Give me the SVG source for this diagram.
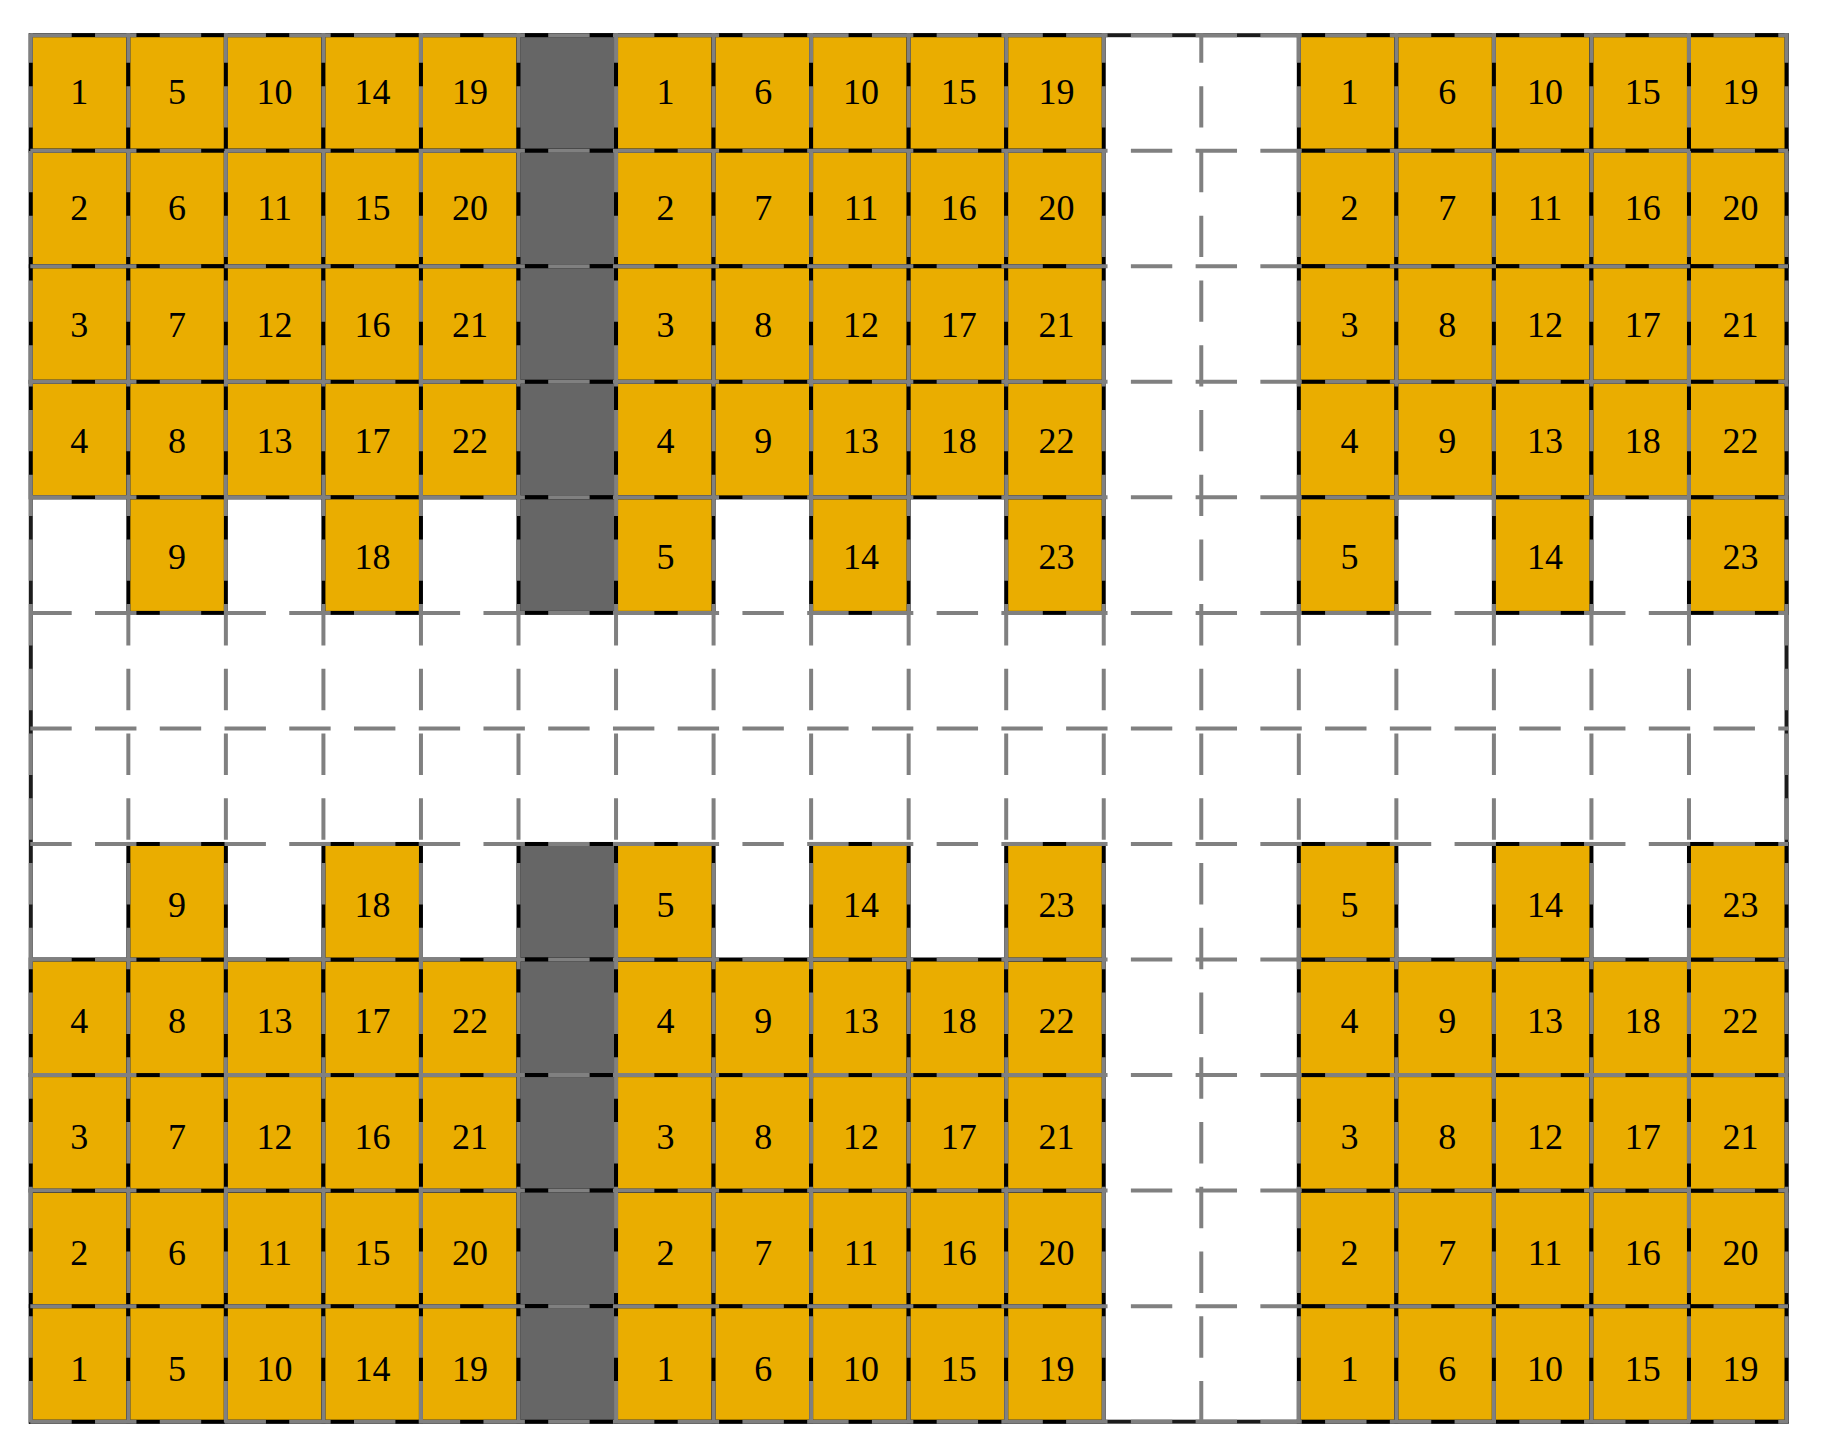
<svg xmlns="http://www.w3.org/2000/svg" width="1822" height="1455" viewBox="0 0 1822 1455">
<style>
.o{fill:#EAAD00;stroke:#000;stroke-width:4}
.d{fill:#666666;stroke:#000;stroke-width:4}
.frame{fill:none;stroke:#1c1c1c;stroke-width:4}
#grid line{stroke:#808080;stroke-width:4;stroke-dasharray:41.4 23.34}
text{font-family:"Liberation Serif","Times New Roman",serif;font-size:36px;text-anchor:middle;fill:#000}
</style>
<rect x="0" y="0" width="1822" height="1455" fill="#fff"/>
<rect class="frame" x="30.8" y="35.2" width="1755.72" height="1386.48"/>
<g id="cells">
<!-- Block A top -->
<g id="A-r0c0"><rect class="o" x="30.8" y="35.2" width="97.54" height="115.54"/><text x="79.2" y="104.4">1</text></g>
<g id="A-r1c0"><rect class="o" x="30.8" y="150.74" width="97.54" height="115.54"/><text x="79.2" y="220.46">2</text></g>
<g id="A-r2c0"><rect class="o" x="30.8" y="266.28" width="97.54" height="115.54"/><text x="79.2" y="336.52">3</text></g>
<g id="A-r3c0"><rect class="o" x="30.8" y="381.82" width="97.54" height="115.54"/><text x="79.2" y="452.58">4</text></g>
<g id="A-r0c1"><rect class="o" x="128.34" y="35.2" width="97.54" height="115.54"/><text x="176.9" y="104.4">5</text></g>
<g id="A-r1c1"><rect class="o" x="128.34" y="150.74" width="97.54" height="115.54"/><text x="176.9" y="220.46">6</text></g>
<g id="A-r2c1"><rect class="o" x="128.34" y="266.28" width="97.54" height="115.54"/><text x="176.9" y="336.52">7</text></g>
<g id="A-r3c1"><rect class="o" x="128.34" y="381.82" width="97.54" height="115.54"/><text x="176.9" y="452.58">8</text></g>
<g id="A-r4c1"><rect class="o" x="128.34" y="497.36" width="97.54" height="115.54"/><text x="176.9" y="568.64">9</text></g>
<g id="A-r0c2"><rect class="o" x="225.88" y="35.2" width="97.54" height="115.54"/><text x="274.6" y="104.4">10</text></g>
<g id="A-r1c2"><rect class="o" x="225.88" y="150.74" width="97.54" height="115.54"/><text x="274.6" y="220.46">11</text></g>
<g id="A-r2c2"><rect class="o" x="225.88" y="266.28" width="97.54" height="115.54"/><text x="274.6" y="336.52">12</text></g>
<g id="A-r3c2"><rect class="o" x="225.88" y="381.82" width="97.54" height="115.54"/><text x="274.6" y="452.58">13</text></g>
<g id="A-r0c3"><rect class="o" x="323.42" y="35.2" width="97.54" height="115.54"/><text x="372.4" y="104.4">14</text></g>
<g id="A-r1c3"><rect class="o" x="323.42" y="150.74" width="97.54" height="115.54"/><text x="372.4" y="220.46">15</text></g>
<g id="A-r2c3"><rect class="o" x="323.42" y="266.28" width="97.54" height="115.54"/><text x="372.4" y="336.52">16</text></g>
<g id="A-r3c3"><rect class="o" x="323.42" y="381.82" width="97.54" height="115.54"/><text x="372.4" y="452.58">17</text></g>
<g id="A-r4c3"><rect class="o" x="323.42" y="497.36" width="97.54" height="115.54"/><text x="372.4" y="568.64">18</text></g>
<g id="A-r0c4"><rect class="o" x="420.96" y="35.2" width="97.54" height="115.54"/><text x="470.1" y="104.4">19</text></g>
<g id="A-r1c4"><rect class="o" x="420.96" y="150.74" width="97.54" height="115.54"/><text x="470.1" y="220.46">20</text></g>
<g id="A-r2c4"><rect class="o" x="420.96" y="266.28" width="97.54" height="115.54"/><text x="470.1" y="336.52">21</text></g>
<g id="A-r3c4"><rect class="o" x="420.96" y="381.82" width="97.54" height="115.54"/><text x="470.1" y="452.58">22</text></g>
<!-- Block A bottom -->
<g id="A-r11c0"><rect class="o" x="30.8" y="1306.14" width="97.54" height="115.54"/><text x="79.2" y="1381.06">1</text></g>
<g id="A-r10c0"><rect class="o" x="30.8" y="1190.6" width="97.54" height="115.54"/><text x="79.2" y="1265">2</text></g>
<g id="A-r9c0"><rect class="o" x="30.8" y="1075.06" width="97.54" height="115.54"/><text x="79.2" y="1148.94">3</text></g>
<g id="A-r8c0"><rect class="o" x="30.8" y="959.52" width="97.54" height="115.54"/><text x="79.2" y="1032.88">4</text></g>
<g id="A-r11c1"><rect class="o" x="128.34" y="1306.14" width="97.54" height="115.54"/><text x="176.9" y="1381.06">5</text></g>
<g id="A-r10c1"><rect class="o" x="128.34" y="1190.6" width="97.54" height="115.54"/><text x="176.9" y="1265">6</text></g>
<g id="A-r9c1"><rect class="o" x="128.34" y="1075.06" width="97.54" height="115.54"/><text x="176.9" y="1148.94">7</text></g>
<g id="A-r8c1"><rect class="o" x="128.34" y="959.52" width="97.54" height="115.54"/><text x="176.9" y="1032.88">8</text></g>
<g id="A-r7c1"><rect class="o" x="128.34" y="843.98" width="97.54" height="115.54"/><text x="176.9" y="916.82">9</text></g>
<g id="A-r11c2"><rect class="o" x="225.88" y="1306.14" width="97.54" height="115.54"/><text x="274.6" y="1381.06">10</text></g>
<g id="A-r10c2"><rect class="o" x="225.88" y="1190.6" width="97.54" height="115.54"/><text x="274.6" y="1265">11</text></g>
<g id="A-r9c2"><rect class="o" x="225.88" y="1075.06" width="97.54" height="115.54"/><text x="274.6" y="1148.94">12</text></g>
<g id="A-r8c2"><rect class="o" x="225.88" y="959.52" width="97.54" height="115.54"/><text x="274.6" y="1032.88">13</text></g>
<g id="A-r11c3"><rect class="o" x="323.42" y="1306.14" width="97.54" height="115.54"/><text x="372.4" y="1381.06">14</text></g>
<g id="A-r10c3"><rect class="o" x="323.42" y="1190.6" width="97.54" height="115.54"/><text x="372.4" y="1265">15</text></g>
<g id="A-r9c3"><rect class="o" x="323.42" y="1075.06" width="97.54" height="115.54"/><text x="372.4" y="1148.94">16</text></g>
<g id="A-r8c3"><rect class="o" x="323.42" y="959.52" width="97.54" height="115.54"/><text x="372.4" y="1032.88">17</text></g>
<g id="A-r7c3"><rect class="o" x="323.42" y="843.98" width="97.54" height="115.54"/><text x="372.4" y="916.82">18</text></g>
<g id="A-r11c4"><rect class="o" x="420.96" y="1306.14" width="97.54" height="115.54"/><text x="470.1" y="1381.06">19</text></g>
<g id="A-r10c4"><rect class="o" x="420.96" y="1190.6" width="97.54" height="115.54"/><text x="470.1" y="1265">20</text></g>
<g id="A-r9c4"><rect class="o" x="420.96" y="1075.06" width="97.54" height="115.54"/><text x="470.1" y="1148.94">21</text></g>
<g id="A-r8c4"><rect class="o" x="420.96" y="959.52" width="97.54" height="115.54"/><text x="470.1" y="1032.88">22</text></g>
<!-- Dark column -->
<g id="D-r0"><rect class="d" x="518.5" y="35.2" width="97.54" height="115.54"/></g>
<g id="D-r1"><rect class="d" x="518.5" y="150.74" width="97.54" height="115.54"/></g>
<g id="D-r2"><rect class="d" x="518.5" y="266.28" width="97.54" height="115.54"/></g>
<g id="D-r3"><rect class="d" x="518.5" y="381.82" width="97.54" height="115.54"/></g>
<g id="D-r4"><rect class="d" x="518.5" y="497.36" width="97.54" height="115.54"/></g>
<g id="D-r7"><rect class="d" x="518.5" y="843.98" width="97.54" height="115.54"/></g>
<g id="D-r8"><rect class="d" x="518.5" y="959.52" width="97.54" height="115.54"/></g>
<g id="D-r9"><rect class="d" x="518.5" y="1075.06" width="97.54" height="115.54"/></g>
<g id="D-r10"><rect class="d" x="518.5" y="1190.6" width="97.54" height="115.54"/></g>
<g id="D-r11"><rect class="d" x="518.5" y="1306.14" width="97.54" height="115.54"/></g>
<!-- Block B top -->
<g id="B-r0c6"><rect class="o" x="616.04" y="35.2" width="97.54" height="115.54"/><text x="665.5" y="104.4">1</text></g>
<g id="B-r1c6"><rect class="o" x="616.04" y="150.74" width="97.54" height="115.54"/><text x="665.5" y="220.46">2</text></g>
<g id="B-r2c6"><rect class="o" x="616.04" y="266.28" width="97.54" height="115.54"/><text x="665.5" y="336.52">3</text></g>
<g id="B-r3c6"><rect class="o" x="616.04" y="381.82" width="97.54" height="115.54"/><text x="665.5" y="452.58">4</text></g>
<g id="B-r4c6"><rect class="o" x="616.04" y="497.36" width="97.54" height="115.54"/><text x="665.5" y="568.64">5</text></g>
<g id="B-r0c7"><rect class="o" x="713.58" y="35.2" width="97.54" height="115.54"/><text x="763.2" y="104.4">6</text></g>
<g id="B-r1c7"><rect class="o" x="713.58" y="150.74" width="97.54" height="115.54"/><text x="763.2" y="220.46">7</text></g>
<g id="B-r2c7"><rect class="o" x="713.58" y="266.28" width="97.54" height="115.54"/><text x="763.2" y="336.52">8</text></g>
<g id="B-r3c7"><rect class="o" x="713.58" y="381.82" width="97.54" height="115.54"/><text x="763.2" y="452.58">9</text></g>
<g id="B-r0c8"><rect class="o" x="811.12" y="35.2" width="97.54" height="115.54"/><text x="861" y="104.4">10</text></g>
<g id="B-r1c8"><rect class="o" x="811.12" y="150.74" width="97.54" height="115.54"/><text x="861" y="220.46">11</text></g>
<g id="B-r2c8"><rect class="o" x="811.12" y="266.28" width="97.54" height="115.54"/><text x="861" y="336.52">12</text></g>
<g id="B-r3c8"><rect class="o" x="811.12" y="381.82" width="97.54" height="115.54"/><text x="861" y="452.58">13</text></g>
<g id="B-r4c8"><rect class="o" x="811.12" y="497.36" width="97.54" height="115.54"/><text x="861" y="568.64">14</text></g>
<g id="B-r0c9"><rect class="o" x="908.66" y="35.2" width="97.54" height="115.54"/><text x="958.7" y="104.4">15</text></g>
<g id="B-r1c9"><rect class="o" x="908.66" y="150.74" width="97.54" height="115.54"/><text x="958.7" y="220.46">16</text></g>
<g id="B-r2c9"><rect class="o" x="908.66" y="266.28" width="97.54" height="115.54"/><text x="958.7" y="336.52">17</text></g>
<g id="B-r3c9"><rect class="o" x="908.66" y="381.82" width="97.54" height="115.54"/><text x="958.7" y="452.58">18</text></g>
<g id="B-r0c10"><rect class="o" x="1006.2" y="35.2" width="97.54" height="115.54"/><text x="1056.4" y="104.4">19</text></g>
<g id="B-r1c10"><rect class="o" x="1006.2" y="150.74" width="97.54" height="115.54"/><text x="1056.4" y="220.46">20</text></g>
<g id="B-r2c10"><rect class="o" x="1006.2" y="266.28" width="97.54" height="115.54"/><text x="1056.4" y="336.52">21</text></g>
<g id="B-r3c10"><rect class="o" x="1006.2" y="381.82" width="97.54" height="115.54"/><text x="1056.4" y="452.58">22</text></g>
<g id="B-r4c10"><rect class="o" x="1006.2" y="497.36" width="97.54" height="115.54"/><text x="1056.4" y="568.64">23</text></g>
<!-- Block B bottom -->
<g id="B-r11c6"><rect class="o" x="616.04" y="1306.14" width="97.54" height="115.54"/><text x="665.5" y="1381.06">1</text></g>
<g id="B-r10c6"><rect class="o" x="616.04" y="1190.6" width="97.54" height="115.54"/><text x="665.5" y="1265">2</text></g>
<g id="B-r9c6"><rect class="o" x="616.04" y="1075.06" width="97.54" height="115.54"/><text x="665.5" y="1148.94">3</text></g>
<g id="B-r8c6"><rect class="o" x="616.04" y="959.52" width="97.54" height="115.54"/><text x="665.5" y="1032.88">4</text></g>
<g id="B-r7c6"><rect class="o" x="616.04" y="843.98" width="97.54" height="115.54"/><text x="665.5" y="916.82">5</text></g>
<g id="B-r11c7"><rect class="o" x="713.58" y="1306.14" width="97.54" height="115.54"/><text x="763.2" y="1381.06">6</text></g>
<g id="B-r10c7"><rect class="o" x="713.58" y="1190.6" width="97.54" height="115.54"/><text x="763.2" y="1265">7</text></g>
<g id="B-r9c7"><rect class="o" x="713.58" y="1075.06" width="97.54" height="115.54"/><text x="763.2" y="1148.94">8</text></g>
<g id="B-r8c7"><rect class="o" x="713.58" y="959.52" width="97.54" height="115.54"/><text x="763.2" y="1032.88">9</text></g>
<g id="B-r11c8"><rect class="o" x="811.12" y="1306.14" width="97.54" height="115.54"/><text x="861" y="1381.06">10</text></g>
<g id="B-r10c8"><rect class="o" x="811.12" y="1190.6" width="97.54" height="115.54"/><text x="861" y="1265">11</text></g>
<g id="B-r9c8"><rect class="o" x="811.12" y="1075.06" width="97.54" height="115.54"/><text x="861" y="1148.94">12</text></g>
<g id="B-r8c8"><rect class="o" x="811.12" y="959.52" width="97.54" height="115.54"/><text x="861" y="1032.88">13</text></g>
<g id="B-r7c8"><rect class="o" x="811.12" y="843.98" width="97.54" height="115.54"/><text x="861" y="916.82">14</text></g>
<g id="B-r11c9"><rect class="o" x="908.66" y="1306.14" width="97.54" height="115.54"/><text x="958.7" y="1381.06">15</text></g>
<g id="B-r10c9"><rect class="o" x="908.66" y="1190.6" width="97.54" height="115.54"/><text x="958.7" y="1265">16</text></g>
<g id="B-r9c9"><rect class="o" x="908.66" y="1075.06" width="97.54" height="115.54"/><text x="958.7" y="1148.94">17</text></g>
<g id="B-r8c9"><rect class="o" x="908.66" y="959.52" width="97.54" height="115.54"/><text x="958.7" y="1032.88">18</text></g>
<g id="B-r11c10"><rect class="o" x="1006.2" y="1306.14" width="97.54" height="115.54"/><text x="1056.4" y="1381.06">19</text></g>
<g id="B-r10c10"><rect class="o" x="1006.2" y="1190.6" width="97.54" height="115.54"/><text x="1056.4" y="1265">20</text></g>
<g id="B-r9c10"><rect class="o" x="1006.2" y="1075.06" width="97.54" height="115.54"/><text x="1056.4" y="1148.94">21</text></g>
<g id="B-r8c10"><rect class="o" x="1006.2" y="959.52" width="97.54" height="115.54"/><text x="1056.4" y="1032.88">22</text></g>
<g id="B-r7c10"><rect class="o" x="1006.2" y="843.98" width="97.54" height="115.54"/><text x="1056.4" y="916.82">23</text></g>
<!-- Block C top -->
<g id="C-r0c13"><rect class="o" x="1298.82" y="35.2" width="97.54" height="115.54"/><text x="1349.6" y="104.4">1</text></g>
<g id="C-r1c13"><rect class="o" x="1298.82" y="150.74" width="97.54" height="115.54"/><text x="1349.6" y="220.46">2</text></g>
<g id="C-r2c13"><rect class="o" x="1298.82" y="266.28" width="97.54" height="115.54"/><text x="1349.6" y="336.52">3</text></g>
<g id="C-r3c13"><rect class="o" x="1298.82" y="381.82" width="97.54" height="115.54"/><text x="1349.6" y="452.58">4</text></g>
<g id="C-r4c13"><rect class="o" x="1298.82" y="497.36" width="97.54" height="115.54"/><text x="1349.6" y="568.64">5</text></g>
<g id="C-r0c14"><rect class="o" x="1396.36" y="35.2" width="97.54" height="115.54"/><text x="1447.3" y="104.4">6</text></g>
<g id="C-r1c14"><rect class="o" x="1396.36" y="150.74" width="97.54" height="115.54"/><text x="1447.3" y="220.46">7</text></g>
<g id="C-r2c14"><rect class="o" x="1396.36" y="266.28" width="97.54" height="115.54"/><text x="1447.3" y="336.52">8</text></g>
<g id="C-r3c14"><rect class="o" x="1396.36" y="381.82" width="97.54" height="115.54"/><text x="1447.3" y="452.58">9</text></g>
<g id="C-r0c15"><rect class="o" x="1493.9" y="35.2" width="97.54" height="115.54"/><text x="1545" y="104.4">10</text></g>
<g id="C-r1c15"><rect class="o" x="1493.9" y="150.74" width="97.54" height="115.54"/><text x="1545" y="220.46">11</text></g>
<g id="C-r2c15"><rect class="o" x="1493.9" y="266.28" width="97.54" height="115.54"/><text x="1545" y="336.52">12</text></g>
<g id="C-r3c15"><rect class="o" x="1493.9" y="381.82" width="97.54" height="115.54"/><text x="1545" y="452.58">13</text></g>
<g id="C-r4c15"><rect class="o" x="1493.9" y="497.36" width="97.54" height="115.54"/><text x="1545" y="568.64">14</text></g>
<g id="C-r0c16"><rect class="o" x="1591.44" y="35.2" width="97.54" height="115.54"/><text x="1642.7" y="104.4">15</text></g>
<g id="C-r1c16"><rect class="o" x="1591.44" y="150.74" width="97.54" height="115.54"/><text x="1642.7" y="220.46">16</text></g>
<g id="C-r2c16"><rect class="o" x="1591.44" y="266.28" width="97.54" height="115.54"/><text x="1642.7" y="336.52">17</text></g>
<g id="C-r3c16"><rect class="o" x="1591.44" y="381.82" width="97.54" height="115.54"/><text x="1642.7" y="452.58">18</text></g>
<g id="C-r0c17"><rect class="o" x="1688.98" y="35.2" width="97.54" height="115.54"/><text x="1740.4" y="104.4">19</text></g>
<g id="C-r1c17"><rect class="o" x="1688.98" y="150.74" width="97.54" height="115.54"/><text x="1740.4" y="220.46">20</text></g>
<g id="C-r2c17"><rect class="o" x="1688.98" y="266.28" width="97.54" height="115.54"/><text x="1740.4" y="336.52">21</text></g>
<g id="C-r3c17"><rect class="o" x="1688.98" y="381.82" width="97.54" height="115.54"/><text x="1740.4" y="452.58">22</text></g>
<g id="C-r4c17"><rect class="o" x="1688.98" y="497.36" width="97.54" height="115.54"/><text x="1740.4" y="568.64">23</text></g>
<!-- Block C bottom -->
<g id="C-r11c13"><rect class="o" x="1298.82" y="1306.14" width="97.54" height="115.54"/><text x="1349.6" y="1381.06">1</text></g>
<g id="C-r10c13"><rect class="o" x="1298.82" y="1190.6" width="97.54" height="115.54"/><text x="1349.6" y="1265">2</text></g>
<g id="C-r9c13"><rect class="o" x="1298.82" y="1075.06" width="97.54" height="115.54"/><text x="1349.6" y="1148.94">3</text></g>
<g id="C-r8c13"><rect class="o" x="1298.82" y="959.52" width="97.54" height="115.54"/><text x="1349.6" y="1032.88">4</text></g>
<g id="C-r7c13"><rect class="o" x="1298.82" y="843.98" width="97.54" height="115.54"/><text x="1349.6" y="916.82">5</text></g>
<g id="C-r11c14"><rect class="o" x="1396.36" y="1306.14" width="97.54" height="115.54"/><text x="1447.3" y="1381.06">6</text></g>
<g id="C-r10c14"><rect class="o" x="1396.36" y="1190.6" width="97.54" height="115.54"/><text x="1447.3" y="1265">7</text></g>
<g id="C-r9c14"><rect class="o" x="1396.36" y="1075.06" width="97.54" height="115.54"/><text x="1447.3" y="1148.94">8</text></g>
<g id="C-r8c14"><rect class="o" x="1396.36" y="959.52" width="97.54" height="115.54"/><text x="1447.3" y="1032.88">9</text></g>
<g id="C-r11c15"><rect class="o" x="1493.9" y="1306.14" width="97.54" height="115.54"/><text x="1545" y="1381.06">10</text></g>
<g id="C-r10c15"><rect class="o" x="1493.9" y="1190.6" width="97.54" height="115.54"/><text x="1545" y="1265">11</text></g>
<g id="C-r9c15"><rect class="o" x="1493.9" y="1075.06" width="97.54" height="115.54"/><text x="1545" y="1148.94">12</text></g>
<g id="C-r8c15"><rect class="o" x="1493.9" y="959.52" width="97.54" height="115.54"/><text x="1545" y="1032.88">13</text></g>
<g id="C-r7c15"><rect class="o" x="1493.9" y="843.98" width="97.54" height="115.54"/><text x="1545" y="916.82">14</text></g>
<g id="C-r11c16"><rect class="o" x="1591.44" y="1306.14" width="97.54" height="115.54"/><text x="1642.7" y="1381.06">15</text></g>
<g id="C-r10c16"><rect class="o" x="1591.44" y="1190.6" width="97.54" height="115.54"/><text x="1642.7" y="1265">16</text></g>
<g id="C-r9c16"><rect class="o" x="1591.44" y="1075.06" width="97.54" height="115.54"/><text x="1642.7" y="1148.94">17</text></g>
<g id="C-r8c16"><rect class="o" x="1591.44" y="959.52" width="97.54" height="115.54"/><text x="1642.7" y="1032.88">18</text></g>
<g id="C-r11c17"><rect class="o" x="1688.98" y="1306.14" width="97.54" height="115.54"/><text x="1740.4" y="1381.06">19</text></g>
<g id="C-r10c17"><rect class="o" x="1688.98" y="1190.6" width="97.54" height="115.54"/><text x="1740.4" y="1265">20</text></g>
<g id="C-r9c17"><rect class="o" x="1688.98" y="1075.06" width="97.54" height="115.54"/><text x="1740.4" y="1148.94">21</text></g>
<g id="C-r8c17"><rect class="o" x="1688.98" y="959.52" width="97.54" height="115.54"/><text x="1740.4" y="1032.88">22</text></g>
<g id="C-r7c17"><rect class="o" x="1688.98" y="843.98" width="97.54" height="115.54"/><text x="1740.4" y="916.82">23</text></g>
</g>
<g id="grid">
<line x1="30.8" y1="1422.4" x2="30.8" y2="33.2"/>
<line x1="128.34" y1="1422.4" x2="128.34" y2="33.2"/>
<line x1="225.88" y1="1422.4" x2="225.88" y2="33.2"/>
<line x1="323.42" y1="1422.4" x2="323.42" y2="33.2"/>
<line x1="420.96" y1="1422.4" x2="420.96" y2="33.2"/>
<line x1="518.5" y1="1422.4" x2="518.5" y2="33.2"/>
<line x1="616.04" y1="1422.4" x2="616.04" y2="33.2"/>
<line x1="713.58" y1="1422.4" x2="713.58" y2="33.2"/>
<line x1="811.12" y1="1422.4" x2="811.12" y2="33.2"/>
<line x1="908.66" y1="1422.4" x2="908.66" y2="33.2"/>
<line x1="1006.2" y1="1422.4" x2="1006.2" y2="33.2"/>
<line x1="1103.74" y1="1422.4" x2="1103.74" y2="33.2"/>
<line x1="1201.28" y1="1422.4" x2="1201.28" y2="33.2"/>
<line x1="1298.82" y1="1422.4" x2="1298.82" y2="33.2"/>
<line x1="1396.36" y1="1422.4" x2="1396.36" y2="33.2"/>
<line x1="1493.9" y1="1422.4" x2="1493.9" y2="33.2"/>
<line x1="1591.44" y1="1422.4" x2="1591.44" y2="33.2"/>
<line x1="1688.98" y1="1422.4" x2="1688.98" y2="33.2"/>
<line x1="1786.52" y1="1422.4" x2="1786.52" y2="33.2"/>
<line x1="30.3" y1="35.2" x2="1788" y2="35.2"/>
<line x1="30.3" y1="150.74" x2="1788" y2="150.74"/>
<line x1="30.3" y1="266.28" x2="1788" y2="266.28"/>
<line x1="30.3" y1="381.82" x2="1788" y2="381.82"/>
<line x1="30.3" y1="497.36" x2="1788" y2="497.36"/>
<line x1="30.3" y1="612.9" x2="1788" y2="612.9"/>
<line x1="30.3" y1="728.44" x2="1788" y2="728.44"/>
<line x1="30.3" y1="843.98" x2="1788" y2="843.98"/>
<line x1="30.3" y1="959.52" x2="1788" y2="959.52"/>
<line x1="30.3" y1="1075.06" x2="1788" y2="1075.06"/>
<line x1="30.3" y1="1190.6" x2="1788" y2="1190.6"/>
<line x1="30.3" y1="1306.14" x2="1788" y2="1306.14"/>
<line x1="30.3" y1="1421.68" x2="1788" y2="1421.68"/>
</g>
</svg>
